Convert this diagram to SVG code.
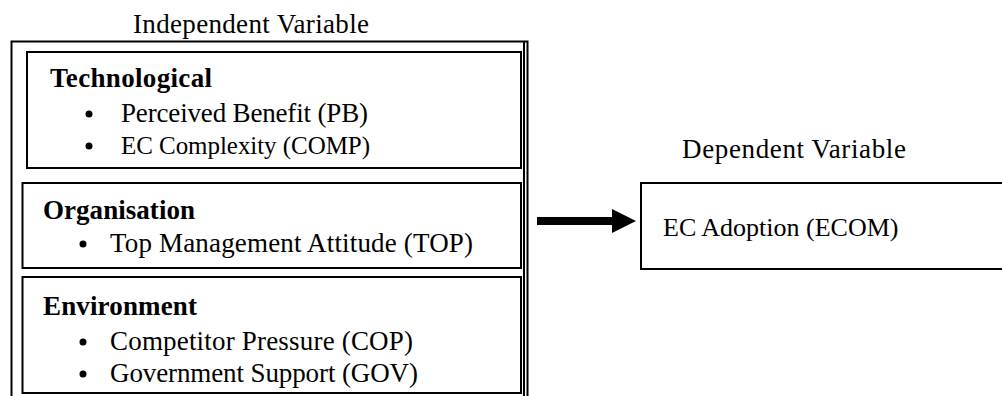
<svg xmlns="http://www.w3.org/2000/svg" width="1002" height="396" viewBox="0 0 1002 396">
<style>
.t{font-family:"Liberation Serif","Times New Roman",serif;font-size:27px;fill:#000}
.s{font-size:25px}
.m{font-size:26px}
.b{font-weight:bold}
.box{fill:none;stroke:#000;stroke-width:2}
.dot{fill:#000}
</style>
<rect width="1002" height="396" fill="#fff"/>
<g id="independent">
<text class="t" x="133" y="33" textLength="236" lengthAdjust="spacing">Independent Variable</text>
<rect class="box" x="11.5" y="41.5" width="516" height="380"/>
<line class="box" x1="524" y1="42" x2="524" y2="396"/>
</g>
<g id="technological">
<rect class="box" x="27" y="52" width="494" height="116"/>
<text class="t b" x="50" y="87" textLength="162" lengthAdjust="spacing">Technological</text>
<circle class="dot" cx="89" cy="114" r="3.5"/>
<text class="t" x="121" y="122" textLength="247" lengthAdjust="spacing">Perceived Benefit (PB)</text>
<circle class="dot" cx="89" cy="146" r="3.5"/>
<text class="t s" x="121" y="154" textLength="249" lengthAdjust="spacing">EC Complexity (COMP)</text>
</g>
<g id="organisation">
<rect class="box" x="22.5" y="183" width="498.5" height="85"/>
<text class="t b" x="43" y="219" textLength="152" lengthAdjust="spacing">Organisation</text>
<circle class="dot" cx="83" cy="244" r="3.5"/>
<text class="t" x="110" y="252" textLength="363" lengthAdjust="spacing">Top Management Attitude (TOP)</text>
</g>
<g id="environment">
<rect class="box" x="22.5" y="277" width="498.5" height="116"/>
<text class="t b" x="43" y="315" textLength="154" lengthAdjust="spacing">Environment</text>
<circle class="dot" cx="83" cy="342" r="3.5"/>
<text class="t" x="110" y="350" textLength="303" lengthAdjust="spacing">Competitor Pressure (COP)</text>
<circle class="dot" cx="83" cy="374" r="3.5"/>
<text class="t" x="110" y="382" textLength="308" lengthAdjust="spacing">Government Support (GOV)</text>
</g>
<g id="dependent">
<text class="t" x="682" y="158" textLength="224" lengthAdjust="spacing">Dependent Variable</text>
<rect class="box" x="641" y="183" width="380" height="86"/>
<text class="t m" x="663" y="236">EC Adoption (ECOM)</text>
</g>
<g id="connectors">
<rect x="537" y="217" width="76" height="8" fill="#000"/>
<polygon points="612,209 636,221 612,233" fill="#000"/>
</g>
</svg>
